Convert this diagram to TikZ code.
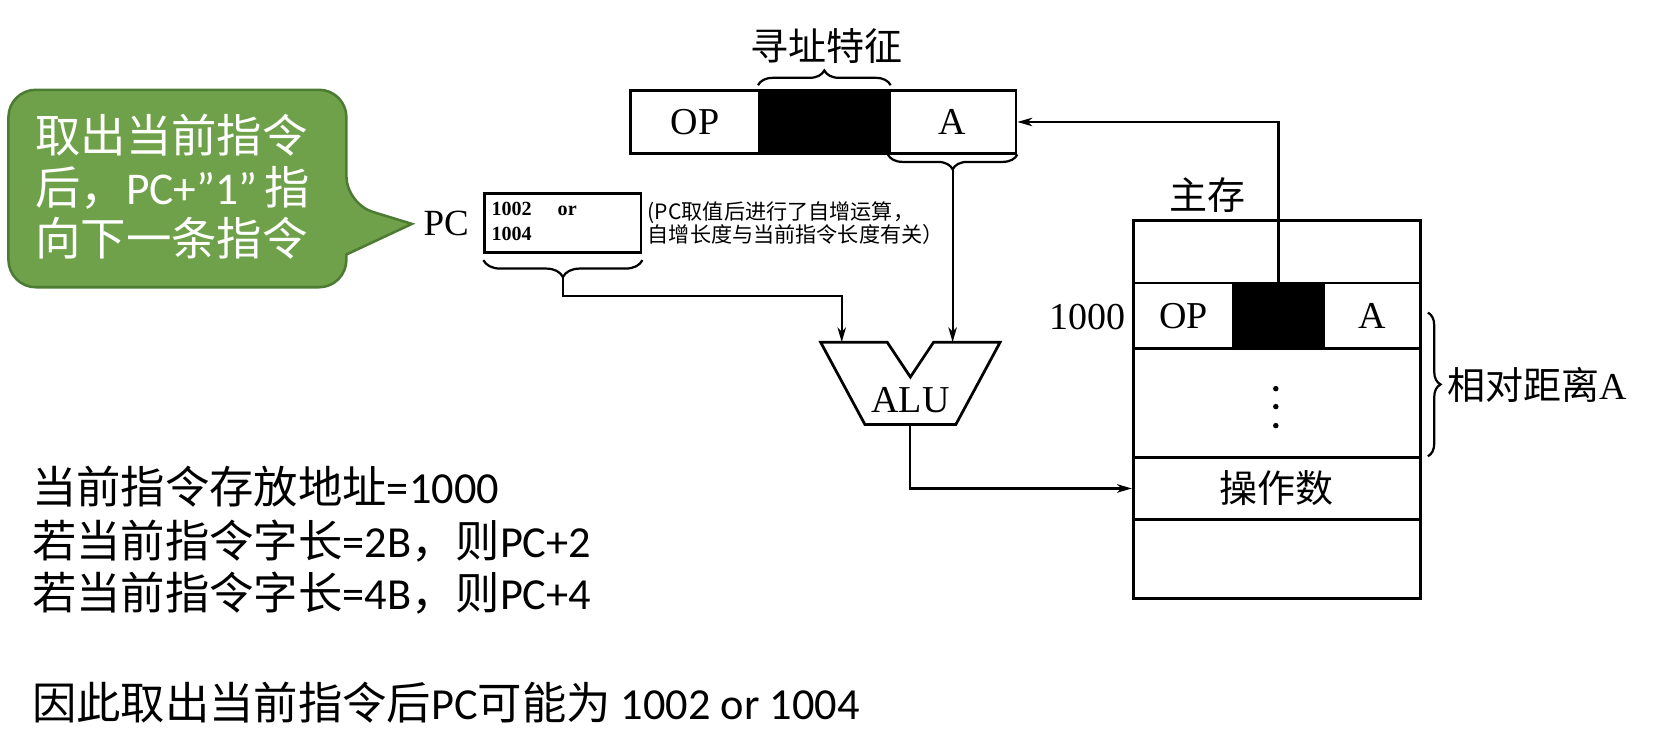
\documentclass[tikz,border=0pt]{standalone}
\usepackage{fontspec}
\setmainfont{Liberation Serif}
\newfontfamily\cjkfont{Noto Sans CJK SC}
\newfontfamily\carlfont{Carlito}
\usetikzlibrary{arrows.meta,decorations.pathreplacing}

\definecolor{calloutfill}{HTML}{6FA14A}
\definecolor{calloutedge}{HTML}{4E7B34}

\begin{document}
\begin{tikzpicture}[x=0.5pt,y=-0.5pt,
  cell/.style={draw, line width=1.3pt, inner sep=0pt,
    font=\fontsize{18}{20}\selectfont},
  blk/.style={cell, fill=black},
  conn/.style={line width=1.05pt, -{Stealth[length=7pt,width=4pt,inset=2pt]}},
  brc/.style={decorate, decoration={brace, amplitude=#1}, line width=1.05pt},
  serif18/.style={font=\fontsize{18}{20}\selectfont},
  zh18/.style={font=\cjkfont\fontsize{18}{20}\selectfont},
  bigtext/.style={anchor=west, inner sep=0pt, font=\cjkfont\fontsize{21}{24}\selectfont},
  callouttext/.style={anchor=west, inner sep=0pt, text=white,
    font=\cjkfont\fontsize{21.5}{24}\selectfont}]

% canvas
\fill[white] (0,0) rectangle (1568,701);
\useasboundingbox (0,0) rectangle (1568,701);

% speech bubble
\draw[fill=calloutfill, draw=calloutedge, line width=1.2pt, rounded corners=13pt]
  (8,85) -- (328,85) -- (328,193) [sharp corners] -- (390,212) -- (328,241)
  [rounded corners=13pt] -- (328,272) -- (8,272) -- cycle;
\node[callouttext] (c1) at (33,128) {取出当前指令};
\node[callouttext] (c2) at (33,178) {后，{\carlfont PC+”1”}\,指};
\node[callouttext] (c3) at (33,226) {向下一条指令};

% instruction register
\node[cell, minimum width=61pt, minimum height=29.5pt] (rOP) at (658,115.5) {OP};
\node[blk, minimum width=61.5pt, minimum height=29.5pt] (rB) at (780.5,115.5) {};
\node[cell, minimum width=60pt, minimum height=29.5pt] (rA) at (902,115.5) {A};
\draw[brc=7pt] ([yshift=2pt]rB.north west) -- ([yshift=2pt]rB.north east);
\node[zh18] (feat) at (783,44) {寻址特征};
\draw[brc=7pt] (rA.south east) -- (rA.south west);
\coordinate (rAtip) at (902,159);

% program counter
\node[anchor=east, font=\fontsize{17.5}{20}\selectfont] (pclab) at (451,212) {PC};
\node[cell, minimum width=74pt, minimum height=28pt] (pc) at (533,211) {};
\node[anchor=north west, inner sep=0pt, align=left,
  font=\bfseries\fontsize{9.5}{12}\selectfont] (pcval) at (465,191)
  {1002\hspace{1.3em}or\\1004};
\node[anchor=west, inner sep=0pt, align=left,
  font=\cjkfont\fontsize{10}{11}\selectfont] (note) at (613,211)
  {(PC取值后进行了自增运算，\\自增长度与当前指令长度有关）};
\draw[brc=8pt] ([yshift=-3pt]pc.south east) -- ([yshift=-3pt]pc.south west);
\coordinate (pctip) at (533,262);

% ALU
\draw[line width=1.3pt, line join=miter]
  (777,324) -- (840,324) -- (862,357) -- (884,324) -- (947,324)
  -- (905,402) -- (819,402) -- cycle;
\node[serif18] (alu) at (862,379) {ALU};
\coordinate (aluL) at (797,324);
\coordinate (aluR) at (902,324);
\coordinate (aluOut) at (862,402);

% main memory
\node[zh18] (memtitle) at (1143,185) {主存};
\node[cell, minimum width=136pt, minimum height=29.5pt] (m0) at (1209,238.5) {};
\node[cell, minimum width=47.5pt, minimum height=31pt] (mOP) at (1120.5,299) {OP};
\node[blk, minimum width=42.5pt, minimum height=31pt] (mB) at (1210.5,299) {};
\node[cell, minimum width=46pt, minimum height=31pt] (mA) at (1299,299) {A};
\node[cell, minimum width=136pt, minimum height=51.5pt] (mdots) at (1209,381.5) {};
\node[cell, minimum width=136pt, minimum height=29.5pt, zh18] (opnd) at (1209,462.5) {操作数};
\node[cell, minimum width=136pt, minimum height=37.5pt] (mlast) at (1209,529.5) {};
\node[anchor=east, serif18, inner sep=0pt] (addr) at (1066,300) {1000};
\foreach \yy in {368,385,403} \fill (1208,\yy) circle (1.3pt);
\draw[brc=6pt] (1352,296) -- (1352,432);
\node[anchor=west, zh18, inner sep=0pt] (dist) at (1370,364)
  {相对距离{\rmfamily A}};

% connectors
\draw[conn] (pctip) -- ++(0,18) -| (aluL);
\draw[conn] (rAtip) -- (aluR);
\draw[conn] (aluOut) |- (opnd.west);
\draw[conn] (mB.north) |- (rA.east);

% explanation
\node[bigtext] (t1) at (30,461) {当前指令存放地址{\carlfont =1000}};
\node[bigtext] (t2) at (30,512) {若当前指令字长{\carlfont =2B}，则{\carlfont PC+2}};
\node[bigtext] (t3) at (30,562) {若当前指令字长{\carlfont =4B}，则{\carlfont PC+4}};
\node[bigtext] (t4) at (30,665) {因此取出当前指令后{\carlfont PC}可能为{\carlfont\ 1002 or 1004}};

\end{tikzpicture}
\end{document}
